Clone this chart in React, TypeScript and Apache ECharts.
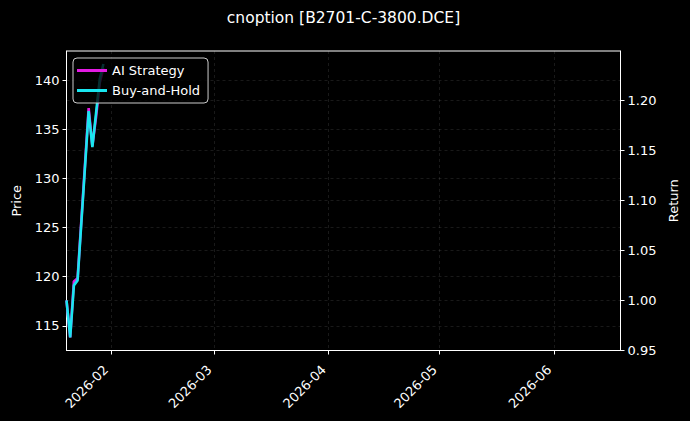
import { useEffect, useRef } from "react";
import * as echarts from "echarts";

// trading days shown in the chart
const dates = [
  "2026-01-20",
  "2026-01-21",
  "2026-01-22",
  "2026-01-23",
  "2026-01-26",
  "2026-01-27",
  "2026-01-28",
  "2026-01-29",
  "2026-01-30",
];

const aiStrategy = [1.0, 0.963, 1.019, 1.022, 1.192, 1.154, 1.183, 1.217, 1.232];
const buyAndHold = [1.0, 0.963, 1.015, 1.02, 1.189, 1.153, 1.187, 1.221, 1.236];

const monthTicks = ["2026-02-01", "2026-03-01", "2026-04-01", "2026-05-01", "2026-06-01"];
const priceTicks = [115, 120, 125, 130, 135, 140];
const returnTicks = [0.95, 1.0, 1.05, 1.1, 1.15, 1.2];

const FONT = "DejaVu Sans";
const GRID_LINE = { color: "rgba(255,255,255,0.17)", width: 0.6, type: [3, 3] as number[] };

const ts = (d: string) => {
  const [y, m, day] = d.split("-").map(Number);
  return new Date(y, m - 1, day).getTime();
};

export default function App() {
  const chartRef = useRef<HTMLDivElement>(null);

  useEffect(() => {
    if (!chartRef.current) return;
    const chart = echarts.init(chartRef.current, undefined, { renderer: "svg" });

    const monthValues = monthTicks.map(ts);

    chart.setOption({
      animation: false,
      backgroundColor: "#000000",
      textStyle: { fontFamily: FONT },
      graphic: [
        {
          type: "text",
          x: 343.5,
          y: 18,
          style: {
            text: "cnoption [B2701-C-3800.DCE]",
            fill: "#ffffff",
            font: `15.5px "${FONT}"`,
            textAlign: "center",
            textVerticalAlign: "middle",
          },
        },
      ],
      grid: {
        left: 66.5,
        right: 69.5,
        top: 51,
        bottom: 70.5,
        show: true,
        borderColor: "#ffffff",
        borderWidth: 1,
        backgroundColor: "transparent",
      },
      legend: {
        orient: "vertical",
        left: 73,
        top: 58,
        z: 10,
        icon: "rect",
        itemWidth: 30,
        itemHeight: 3,
        itemGap: 5,
        padding: [5, 8, 5, 4],
        backgroundColor: "rgba(0,0,0,0.8)",
        borderColor: "#cccccc",
        borderWidth: 1,
        borderRadius: 4,
        textStyle: { color: "#ffffff", fontSize: 13, fontFamily: FONT, lineHeight: 15 },
        data: ["AI Strategy", "Buy-and-Hold"],
      },
      xAxis: {
        type: "value",
        min: ts("2026-01-20"),
        max: ts("2026-06-19"),
        axisLine: { show: true, lineStyle: { color: "#ffffff", width: 1 } },
        axisTick: {
          show: true,
          length: 4,
          lineStyle: { color: "#ffffff" },
          customValues: monthValues,
        },
        axisLabel: {
          color: "#ffffff",
          fontSize: 13,
          fontFamily: FONT,
          rotate: 45,
          margin: 12,
          padding: [0, 7, 0, 0],
          customValues: monthValues,
          formatter: (v: number) => {
            const d = new Date(v);
            return `${d.getFullYear()}-${String(d.getMonth() + 1).padStart(2, "0")}`;
          },
        },
        splitLine: { show: true, lineStyle: GRID_LINE },
      },
      yAxis: [
        {
          type: "value",
          position: "left",
          min: 112.5,
          max: 142.95,
          name: "Price",
          nameLocation: "middle",
          nameGap: 44,
          nameRotate: 90,
          nameTextStyle: { color: "#ffffff", fontSize: 13, fontFamily: FONT },
          axisLine: { show: true, lineStyle: { color: "#ffffff" } },
          axisTick: {
            show: true,
            length: 4,
            lineStyle: { color: "#ffffff" },
            customValues: priceTicks,
          },
          axisLabel: {
            color: "#ffffff",
            fontSize: 13,
            fontFamily: FONT,
            margin: 7,
            customValues: priceTicks,
          },
          splitLine: { show: true, lineStyle: GRID_LINE },
        },
        {
          type: "value",
          position: "right",
          min: 0.95,
          max: 1.249,
          name: "Return",
          nameLocation: "middle",
          nameGap: 45,
          nameRotate: 90,
          nameTextStyle: { color: "#ffffff", fontSize: 13, fontFamily: FONT },
          axisLine: { show: true, lineStyle: { color: "#ffffff" } },
          axisTick: {
            show: true,
            length: 4,
            lineStyle: { color: "#ffffff" },
            customValues: returnTicks,
          },
          axisLabel: {
            color: "#ffffff",
            fontSize: 13,
            fontFamily: FONT,
            margin: 7,
            customValues: returnTicks,
            formatter: (v: number) => v.toFixed(2),
          },
          splitLine: { show: true, lineStyle: GRID_LINE },
        },
      ],
      series: [
        {
          name: "AI Strategy",
          type: "line",
          yAxisIndex: 1,
          z: 2,
          showSymbol: false,
          symbol: "none",
          color: "#e31be3",
          lineStyle: { width: 2.6, color: "#e31be3" },
          data: dates.map((d, i) => [ts(d), aiStrategy[i]]),
        },
        {
          name: "Buy-and-Hold",
          type: "line",
          yAxisIndex: 1,
          z: 3,
          showSymbol: false,
          symbol: "none",
          color: "#19e6f0",
          lineStyle: { width: 2.6, color: "#19e6f0" },
          data: dates.map((d, i) => [ts(d), buyAndHold[i]]),
        },
      ],
    });

    return () => {
      chart.dispose();
    };
  }, []);

  return (
    <div
      ref={chartRef}
      style={{ position: "absolute", left: 0, top: 0, width: 690, height: 421 }}
    />
  );
}
